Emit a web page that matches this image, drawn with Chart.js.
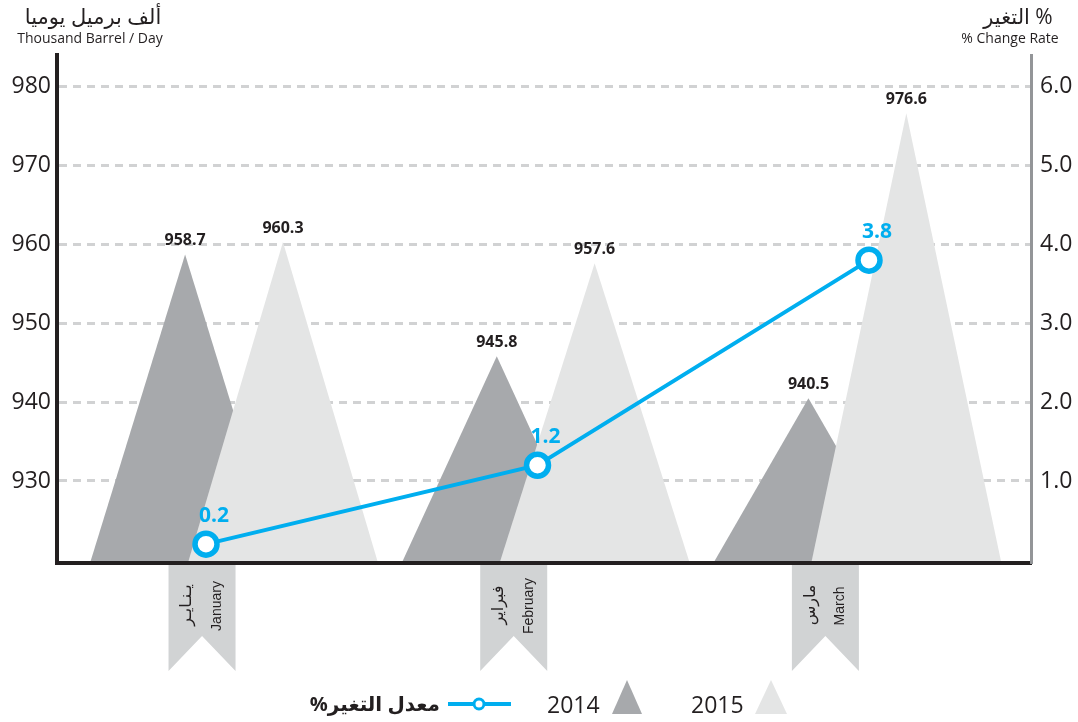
<!DOCTYPE html>
<html>
<head>
<meta charset="utf-8">
<script src="https://cdn.jsdelivr.net/npm/chart.js@4.4.1/dist/chart.umd.min.js"></script>
<style>
  html, body { margin: 0; padding: 0; background: #ffffff; }
  #wrap { width: 1078px; height: 722px; position: relative; }
</style>
</head>
<body>
<div id="wrap"><canvas id="c" width="1078" height="722"></canvas></div>
<script>
// ---- data ----
const monthsEn = ['January', 'February', 'March'];
const monthsAr = ['يـنـايـر', 'فبراير', 'مارس'];
const prod2014 = [958.7, 945.8, 940.5];
const prod2015 = [960.3, 957.6, 976.6];
const changeRate = [0.2, 1.2, 3.8];
const leftTicks = [930, 940, 950, 960, 970, 980];
const rightTicks = [1, 2, 3, 4, 5, 6];
const seriesNames = ['2014', '2015', 'معدل التغير%'];
const leftTitleAr = 'ألف برميل يوميا';
const leftTitleEn = 'Thousand Barrel / Day';
const rightTitleAr = 'التغير %';
const rightTitleEn = '% Change Rate';

// ---- styles ----
const DARK = '#a7a9ac';
const LIGHT = '#e4e5e5';
const CYAN = '#00aeef';
const INK = '#231f20';
const RIBBON = '#d1d3d4';
const FONT = "'Open Sans', 'DejaVu Sans', sans-serif";
const PEAK_SHIFT = 0.157;   // half distance between the two peaks, in category units
const HALF_BASE = 0.305;    // half base width of a peak, in category units

Chart.defaults.font.family = FONT;
Chart.defaults.color = INK;

function triGeom(chart, dsIndex, i) {
  const ds = chart.data.datasets[dsIndex];
  const xb = chart.scales.xb, y = chart.scales.y;
  const dir = ds.peakSide;
  const x = xb.getPixelForValue(i + dir * PEAK_SHIFT);
  const unit = xb.getPixelForValue(1) - xb.getPixelForValue(0);
  return { x, top: y.getPixelForValue(ds.data[i].y), base: chart.chartArea.bottom, hw: unit * HALF_BASE };
}

const triPlugin = {
  id: 'triangles',
  beforeDatasetsDraw(chart) {
    const ctx = chart.ctx;
    ctx.save();
    // draw 2014 first, 2015 over it
    chart.data.datasets.forEach((ds, di) => {
      if (ds.type === 'line') return;
      ctx.fillStyle = ds.backgroundColor;
      ds.data.forEach((d, i) => {
        const g = triGeom(chart, di, i);
        ctx.beginPath();
        ctx.moveTo(g.x - g.hw, g.base);
        ctx.lineTo(g.x, g.top);
        ctx.lineTo(g.x + g.hw, g.base);
        ctx.closePath();
        ctx.fill();
      });
    });
    ctx.restore();
  },
  beforeDatasetDraw(chart, args) {
    if (args.meta.type === 'bar') return false;
  },
  afterDatasetsDraw(chart) {
    const ctx = chart.ctx;
    ctx.save();
    ctx.textAlign = 'center';
    ctx.textBaseline = 'middle';
    chart.data.datasets.forEach((ds, di) => {
      const meta = chart.getDatasetMeta(di);
      ds.data.forEach((d, i) => {
        if (ds.type !== 'line') {
          const g = triGeom(chart, di, i);
          ctx.font = 'bold 16px ' + FONT;
          ctx.fillStyle = INK;
          ctx.fillText(d.y.toFixed(1), g.x, g.top - 14);
        } else {
          const p = meta.data[i].getProps(['x', 'y'], true);
          ctx.font = 'bold 21px ' + FONT;
          ctx.fillStyle = CYAN;
          ctx.fillText(d.y.toFixed(1), p.x + 8, p.y - 28);
        }
      });
    });
    ctx.restore();
  },
  afterDraw(chart) {
    const ctx = chart.ctx;
    const area = chart.chartArea;
    const xb = chart.scales.xb;
    ctx.save();
    // ribbons with month labels
    monthsEn.forEach((m, i) => {
      const cx = xb.getPixelForValue(i) - 32;
      const l = cx - 33.5, r = cx + 33.5, t = area.bottom + 2, b = 671;
      ctx.fillStyle = RIBBON;
      ctx.beginPath();
      ctx.moveTo(l, t); ctx.lineTo(r, t); ctx.lineTo(r, b); ctx.lineTo(cx, 636); ctx.lineTo(l, b);
      ctx.closePath(); ctx.fill();
      ctx.fillStyle = INK;
      ctx.textAlign = 'center';
      ctx.textBaseline = 'middle';
      ctx.save();
      ctx.translate(cx - 15, 605);
      ctx.rotate(-Math.PI / 2);
      ctx.font = "16px 'DejaVu Sans', sans-serif";
      ctx.fillText(monthsAr[i], 0, 0);
      ctx.restore();
      ctx.save();
      ctx.translate(cx + 15, 606);
      ctx.rotate(-Math.PI / 2);
      ctx.font = "14px 'Liberation Sans', Arial, sans-serif";
      ctx.fillText(m, 0, 0);
      ctx.restore();
    });
    // axis titles
    ctx.fillStyle = INK;
    ctx.textAlign = 'center';
    ctx.textBaseline = 'middle';
    ctx.direction = 'ltr';
    ctx.font = '21px ' + FONT;
    ctx.fillText(leftTitleAr, 93, 18);
    ctx.fillText('\u200E' + rightTitleAr, 1018, 18);
    ctx.font = '14px ' + FONT;
    ctx.fillText(leftTitleEn, 90, 39);
    ctx.fillText(rightTitleEn, 1010, 39);
    // legend
    const ly = 705;
    ctx.font = 'bold 20px ' + FONT;
    ctx.textAlign = 'right';
    ctx.direction = 'rtl';
    ctx.fillText(seriesNames[2], 440, ly);
    ctx.direction = 'ltr';
    ctx.strokeStyle = CYAN;
    ctx.lineWidth = 4;
    ctx.beginPath(); ctx.moveTo(448, ly - 1); ctx.lineTo(511, ly - 1); ctx.stroke();
    ctx.beginPath(); ctx.arc(479, ly - 1, 5, 0, Math.PI * 2);
    ctx.fillStyle = '#ffffff'; ctx.fill();
    ctx.lineWidth = 3; ctx.stroke();
    ctx.fillStyle = INK;
    ctx.textAlign = 'left';
    ctx.font = '23px ' + FONT;
    ctx.fillText(seriesNames[0], 547, ly + 1);
    ctx.fillText(seriesNames[1], 691, ly + 1);
    ctx.fillStyle = DARK;
    ctx.beginPath(); ctx.moveTo(612, 714); ctx.lineTo(627, 680); ctx.lineTo(642, 714); ctx.closePath(); ctx.fill();
    ctx.fillStyle = LIGHT;
    ctx.beginPath(); ctx.moveTo(755, 714); ctx.lineTo(771, 680); ctx.lineTo(787, 714); ctx.closePath(); ctx.fill();
    ctx.restore();
  }
};

new Chart(document.getElementById('c'), {
  type: 'bar',
  data: {
    datasets: [
      {
        label: seriesNames[0],
        xAxisID: 'xb',
        yAxisID: 'y',
        peakSide: -1,
        data: prod2014.map((v, i) => ({ x: i, y: v })),
        backgroundColor: DARK
      },
      {
        label: seriesNames[1],
        xAxisID: 'xb',
        yAxisID: 'y',
        peakSide: 1,
        data: prod2015.map((v, i) => ({ x: i, y: v })),
        backgroundColor: LIGHT
      },
      {
        label: seriesNames[2],
        type: 'line',
        xAxisID: 'xl',
        yAxisID: 'y2',
        data: changeRate.map((v, i) => ({ x: i, y: v })),
        borderColor: CYAN,
        borderWidth: 4,
        pointRadius: 11,
        pointBorderWidth: 5.5,
        pointBackgroundColor: '#ffffff',
        pointBorderColor: CYAN,
        tension: 0,
        clip: false
      }
    ]
  },
  options: {
    responsive: false,
    animation: false,
    events: [],
    layout: { padding: { top: 55, bottom: 159, left: 0, right: 0 } },
    plugins: { legend: { display: false }, tooltip: { enabled: false } },
    scales: {
      xb: {
        type: 'linear', position: 'bottom', min: -0.568, max: 2.557, offset: false, bounds: 'data',
        grid: { display: false, drawTicks: false },
        ticks: { display: false },
        border: { display: true, color: INK, width: 4, z: 1 },
        afterFit(s) { s.height = 0; }
      },
      xl: {
        type: 'linear', position: 'bottom', display: false, offset: false, bounds: 'data',
        min: -0.4495, max: 2.4887,
        grid: { offset: false }
      },
      y: {
        type: 'linear', position: 'left', min: 919.6, max: 984, beginAtZero: false,
        grid: { color: '#d1d2d3', lineWidth: 3, drawTicks: false },
        border: { color: INK, width: 4, dash: [8, 6], z: 1 },
        ticks: { padding: 6, color: INK, font: { size: 23 } },
        afterBuildTicks(s) { s.ticks = leftTicks.map(v => ({ value: v })); },
        afterFit(s) { s.width = 57; }
      },
      y2: {
        type: 'linear', position: 'right', min: -0.039, max: 6.4, beginAtZero: false,
        grid: { drawOnChartArea: false, drawTicks: false },
        border: { color: '#939598', width: 3, z: 1 },
        ticks: { padding: 9, color: INK, font: { size: 23 }, callback: v => Number(v).toFixed(1) },
        afterBuildTicks(s) { s.ticks = rightTicks.map(v => ({ value: v })); },
        afterFit(s) { s.width = 47; }
      }
    }
  },
  plugins: [triPlugin]
});
</script>
</body>
</html>
